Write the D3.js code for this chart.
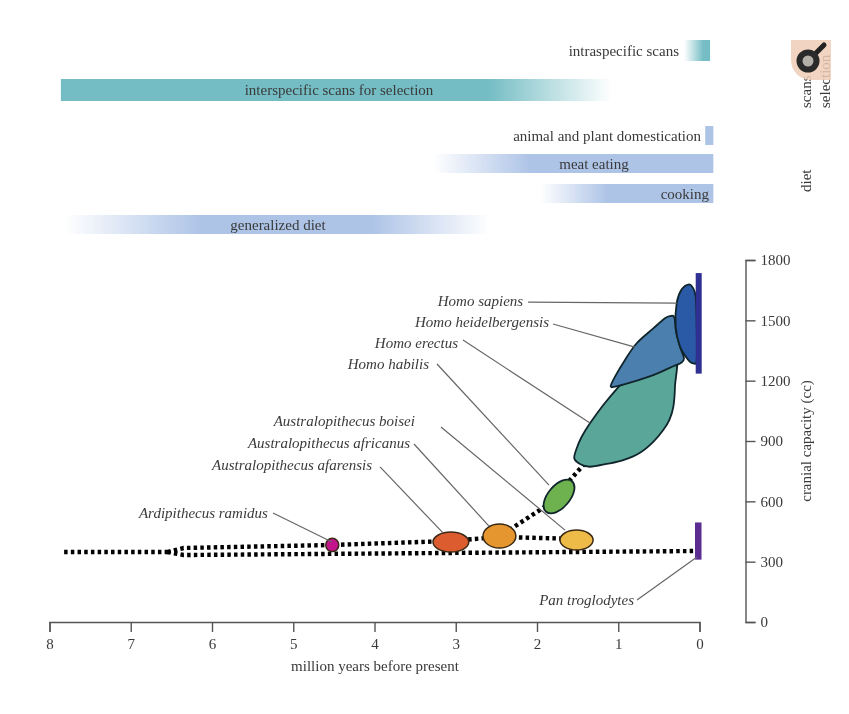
<!DOCTYPE html>
<html><head><meta charset="utf-8">
<script src="https://cdn.jsdelivr.net/npm/d3@7/dist/d3.min.js"></script>
<style>html,body{margin:0;background:#fff}svg{display:block;filter:blur(.35px)}text{font-family:"Liberation Serif",serif;fill:#3a3a3a}</style>
</head><body><svg id="c" width="849" height="714"></svg>
<script>
const xTicks=[8,7,6,5,4,3,2,1,0];
const yTicks=[0,300,600,900,1200,1500,1800];
const xTitle="million years before present";
const yTitle="cranial capacity (cc)";

const barNames=["intraspecific scans","interspecific scans for selection","animal and plant domestication","meat eating","cooking","generalized diet"];
const barStart=[0.19,7.86,-0.07,3.28,1.96,7.81];
const barEnd=[-0.13,1.08,-0.17,-0.17,-0.17,2.58];
const barFadeInEnd=[-0.05,7.86,-0.07,2.09,1.14,6.15];
const barFadeOutStart=[-0.13,2.60,-0.17,-0.17,-0.17,4.02];
const barColor=["#74bdc4","#74bdc4","#aec4e7","#aec4e7","#aec4e7","#aec4e7"];

const ellNames=["Australopithecus afarensis","Australopithecus africanus","Australopithecus boisei","Ardipithecus ramidus"];
const ellAgeMax=[3.28,2.665,1.717,4.60];
const ellAgeMin=[2.84,2.26,1.31,4.44];
const ellCcMin=[348,368,358,350];
const ellCcMax=[447,487,457,416];
const ellColor=["#dd5c2f","#e6962f","#eeba48","#c4148c"];

const erectusAge=[.302,.302,.322,.372,.446,.569,.732,.938,1.142,1.348,1.471,1.541,1.511,1.45,1.348,1.184,1.012,.70];
const erectusCc=[1340,1170,1070,1004,955,896,842,805,786,772,786,814,864,921,988,1079,1162,1300];
const heidelAge=[.363,.31,.289,.24,.191,.23,.314,.569,.855,1.04,1.093,1.04,.917,.773,.569,.425];
const heidelCc=[1521,1515,1443,1369,1311,1288,1273,1228,1190,1170,1173,1220,1303,1386,1460,1510];
const sapiensAge=[.129,.084,.047,.034,.034,.076,.138,.24,.293,.281,.219];
const sapiensCc=[1679,1664,1617,1468,1303,1286,1303,1369,1468,1585,1654];
const habilisAge=[1.57,1.543,1.626,1.767,1.888,1.915,1.833,1.691];
const habilisCc=[700,653,589,545,548,595,659,703];

const lineStem=[[7.82,348],[6.55,348]];
const lineUpper=[[6.55,348],[6.35,368],[4.52,383],[3.06,403],[2.47,423]];
const lineLower=[[6.55,348],[6.35,333],[0.03,353]];
const lineBoisei=[[2.47,423],[1.51,413]];
const lineHabilis=[[2.34,458],[1.87,582]];
const lineErectus=[[1.66,676],[1.42,785]];

const labelNames=["Homo sapiens","Homo heidelbergensis","Homo erectus","Homo habilis","Australopithecus boisei","Australopithecus africanus","Australopithecus afarensis","Ardipithecus ramidus","Pan troglodytes"];
const labelAge=[2.17,1.852,2.972,3.329,3.502,3.563,4.031,5.311,.806];
const labelCc=[1571,1467,1362,1258,974,865,756,517,84];
const leadAge0=[2.11,1.803,2.911,3.231,3.182,3.514,3.932,5.249,.769];
const leadCc0=[1591,1482,1402,1283,970,885,771,542,109];
const leadAge1=[.277,.794,1.348,1.852,1.655,2.591,3.157,4.523,.031];
const leadCc1=[1586,1367,989,681,457,477,443,398,323];

const FS=15;
const x=d3.scaleLinear().domain([8,0]).range([49.5,699.5]);
const y=d3.scaleLinear().domain([0,1800]).range([622,260]);
const svg=d3.select("#c");
const defs=svg.append("defs");

// gradient bars
const barTop=[40,79,126,154,184,215], barH=[21,22,19,19,19,19];
const labelX=[679,339,701,594,709,278], labelAnchor=["end","middle","end","middle","end","middle"];
barNames.forEach((n,i)=>{
  const x0=x(barStart[i]),x1=x(barEnd[i]);
  const g=defs.append("linearGradient").attr("id","g"+i).attr("gradientUnits","userSpaceOnUse").attr("x1",x0).attr("x2",x1).attr("y1",0).attr("y2",0);
  const p=v=>(x(v)-x0)/(x1-x0);
  const c=barColor[i];
  const fadeIn=barFadeInEnd[i]!==barStart[i], fadeOut=barFadeOutStart[i]!==barEnd[i];
  g.append("stop").attr("offset",0).attr("stop-color",c).attr("stop-opacity",fadeIn?0:1);
  if(fadeIn)g.append("stop").attr("offset",p(barFadeInEnd[i])).attr("stop-color",c);
  if(fadeOut)g.append("stop").attr("offset",p(barFadeOutStart[i])).attr("stop-color",c);
  g.append("stop").attr("offset",1).attr("stop-color",c).attr("stop-opacity",fadeOut?0:1);
  svg.append("rect").attr("x",x0).attr("y",barTop[i]).attr("width",x1-x0).attr("height",barH[i]).attr("fill",`url(#g${i})`);
  svg.append("text").attr("x",labelX[i]).attr("y",barTop[i]+barH[i]/2+5).attr("text-anchor",labelAnchor[i]).attr("font-size",FS).text(n);
});

// side labels
const vtext=(tx,ty,s)=>svg.append("text").attr("transform",`translate(${tx},${ty}) rotate(-90)`).attr("font-size",FS).attr("text-anchor","start").text(s);
vtext(811,108,"scans");
vtext(830,108,"selection");
vtext(811,192,"diet");

// icon
const ic=svg.append("g");
ic.append("path").attr("d","M791,40H831V80H811A20,20 0 0 1 791,60Z").attr("fill","#f0cdb8").attr("opacity",.85);
ic.append("line").attr("x1",816).attr("y1",53).attr("x2",824).attr("y2",45).attr("stroke","#222").attr("stroke-width",5).attr("stroke-linecap","round");
ic.append("circle").attr("cx",808).attr("cy",61).attr("r",8.5).attr("fill","#b4b0a8").attr("stroke","#2a2a2a").attr("stroke-width",6);

// dotted lineages
const lg=d3.line().x(d=>x(d[0])).y(d=>y(d[1]));
[lineStem,lineUpper,lineLower,lineBoisei,lineHabilis,lineErectus].forEach(l=>{
  svg.append("path").attr("d",lg(l)).attr("fill","none").attr("stroke","#000").attr("stroke-width",4.4).attr("stroke-dasharray","3.5 3.2");
});

// species shapes
const closed=d3.line().x(d=>x(d[0])).y(d=>y(d[1])).curve(d3.curveCatmullRomClosed.alpha(0));
const blob=(a,c,col)=>svg.append("path").attr("d",closed(a.map((v,i)=>[v,c[i]]))).attr("fill",col).attr("stroke","#10252b").attr("stroke-width",1.8);
blob(erectusAge,erectusCc,"#5aa699");
blob(heidelAge,heidelCc,"#4a7fae");
blob(sapiensAge,sapiensCc,"#2a5aa6");
blob(habilisAge,habilisCc,"#6db24f");
ellNames.forEach((n,i)=>{
  const a=x(ellAgeMax[i]),b=x(ellAgeMin[i]),t=y(ellCcMax[i]),u=y(ellCcMin[i]);
  svg.append("ellipse").attr("cx",(a+b)/2).attr("cy",(t+u)/2).attr("rx",(b-a)/2).attr("ry",(u-t)/2)
    .attr("fill",ellColor[i]).attr("stroke","#3a2a15").attr("stroke-width",1.5);
});

// range bars
svg.append("rect").attr("x",x(0)-3.8).attr("width",6).attr("y",y(1735)).attr("height",y(1235)-y(1735)).attr("fill","#2e3192");
svg.append("rect").attr("x",x(0)-4.5).attr("width",6.5).attr("y",y(495)).attr("height",y(310)-y(495)).attr("fill","#5b2d91");

// labels and leaders
labelNames.forEach((n,i)=>{
  svg.append("line").attr("x1",x(leadAge0[i])).attr("y1",y(leadCc0[i])).attr("x2",x(leadAge1[i])).attr("y2",y(leadCc1[i])).attr("stroke","#666").attr("stroke-width",1.2);
  svg.append("text").attr("x",x(labelAge[i])).attr("y",y(labelCc[i])).attr("text-anchor","end").attr("font-style","italic").attr("font-size",FS).text(n);
});

// axes
const ax=svg.append("g").attr("transform","translate(0,622)").call(d3.axisBottom(x).tickValues(xTicks).tickSize(10).tickSizeOuter(10).tickPadding(6).tickFormat(d3.format("d")));
ax.select(".domain").attr("stroke","#555").attr("stroke-width",1.4);
ax.selectAll(".tick line").attr("stroke","#555").attr("stroke-width",1.4);
ax.selectAll("text").attr("font-size",FS).attr("font-family","Liberation Serif");
svg.append("text").attr("x",375).attr("y",671).attr("text-anchor","middle").attr("font-size",FS).text(xTitle);

const ay=svg.append("g").attr("transform","translate(745.5,0)").call(d3.axisRight(y).tickValues(yTicks).tickSize(10).tickSizeOuter(10).tickPadding(5).tickFormat(d3.format("d")));
ay.select(".domain").attr("stroke","#555").attr("stroke-width",1.4);
ay.selectAll(".tick line").attr("stroke","#555").attr("stroke-width",1.4);
ay.selectAll("text").attr("font-size",FS).attr("font-family","Liberation Serif");
svg.append("text").attr("transform","translate(811,441) rotate(-90)").attr("text-anchor","middle").attr("font-size",FS).text(yTitle);
</script></body></html>
